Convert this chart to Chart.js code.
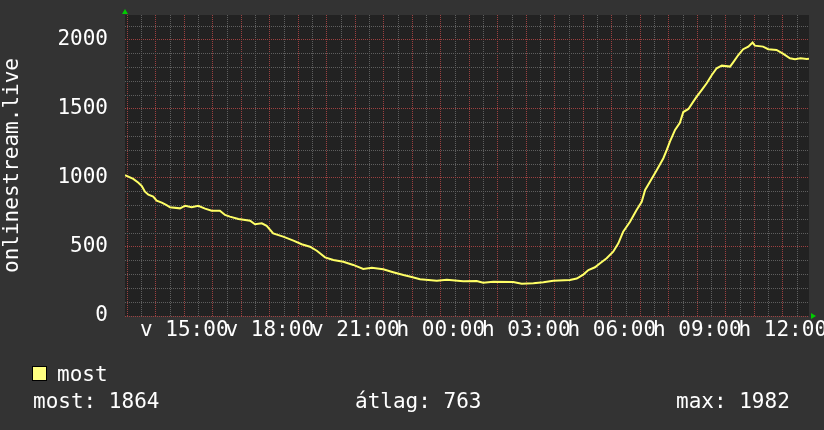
<!DOCTYPE html>
<html><head><meta charset="utf-8">
<script src="https://cdn.jsdelivr.net/npm/chart.js@4/dist/chart.umd.min.js"></script>
<style>html,body{margin:0;padding:0;background:#333333;}canvas{display:block}</style>
</head><body>
<canvas id="c" width="824" height="430"></canvas>
<script>
const seriesName = 'most';
const axisTitle = 'onlinestream.live';
// hours since midnight of the first day
const hours = [12.92,13.21,13.39,13.51,13.62,13.74,13.91,14.03,14.21,14.38,14.50,14.85,15.03,15.26,15.49,15.73,15.96,16.25,16.43,16.60,16.90,17.31,17.48,17.72,17.89,18.12,18.47,18.83,19.12,19.41,19.65,19.94,20.23,20.58,20.93,21.28,21.58,21.98,22.33,22.69,22.98,23.27,23.86,24.21,24.79,25.26,25.49,25.84,26.54,26.84,27.25,27.60,27.95,28.53,28.77,29.00,29.18,29.41,29.59,29.82,30.05,30.23,30.40,30.64,30.87,31.05,31.17,31.34,31.58,31.81,31.93,32.04,32.22,32.39,32.51,32.69,32.86,32.98,33.16,33.33,33.51,33.68,33.86,34.15,34.26,34.44,34.61,34.79,34.94,35.02,35.31,35.49,35.78,36.02,36.25,36.43,36.62,36.84,36.92];
const values = [1020,993,966,942,901,879,865,836,821,804,788,780,799,788,799,778,763,763,732,720,703,691,665,672,654,599,575,546,520,502,473,425,406,393,370,341,350,338,317,297,283,266,256,263,251,254,241,249,246,234,237,244,256,261,271,300,333,353,382,418,466,527,611,683,768,828,913,973,1058,1143,1203,1263,1348,1400,1478,1500,1553,1589,1638,1686,1746,1795,1814,1807,1838,1891,1933,1952,1982,1959,1952,1933,1928,1899,1867,1860,1867,1862,1864];
const xLabelHours = [15,18,21,24,27,30,33,36];
const xLabelTexts = ['v 15:00','v 18:00','v 21:00','h 00:00','h 03:00','h 06:00','h 09:00','h 12:00'];
const yLabelValues = [0,500,1000,1500,2000];
const statTexts = ['most: 1864','átlag: 763','max: 1982'];

const FONT = "'DejaVu Sans Mono'";
const MINOR = '#5e5e5e';
const MAJOR = '#9c4040';

// grid positions (every half hour / every 100)
const xGrid = [];
for (let k = 26; k <= 73; k++) xGrid.push(k / 2);
const yGrid = [];
for (let k = 0; k <= 21; k++) yGrid.push(k * 100);
const xGridColors = xGrid.map(v => Number.isInteger(v) ? MAJOR : MINOR);
const yGridColors = yGrid.map(v => v % 500 === 0 ? MAJOR : MINOR);

const bgPlugin = {
  id: 'bg',
  beforeDraw(chart) {
    const {ctx, chartArea: a} = chart;
    ctx.save();
    ctx.fillStyle = '#333333';
    ctx.fillRect(0, 0, chart.width, chart.height);
    ctx.fillStyle = '#222222';
    ctx.fillRect(a.left, a.top, a.right - a.left, a.bottom - a.top);
    ctx.restore();
  },
  afterDraw(chart) {
    const {ctx, chartArea: a} = chart;
    ctx.save();
    // arrows
    ctx.fillStyle = '#00cc00';
    ctx.beginPath();
    ctx.moveTo(a.left - 3, a.top - 1); ctx.lineTo(a.left + 3, a.top - 1); ctx.lineTo(a.left, a.top - 6); ctx.closePath(); ctx.fill();
    ctx.beginPath();
    ctx.moveTo(a.right + 2, a.bottom - 3); ctx.lineTo(a.right + 2, a.bottom + 3); ctx.lineTo(a.right + 7, a.bottom); ctx.closePath(); ctx.fill();
    // legend
    ctx.fillStyle = '#ffff80';
    ctx.fillRect(32, 366, 15, 15);
    ctx.strokeStyle = '#000000'; ctx.lineWidth = 1;
    ctx.strokeRect(32.5, 366.5, 14, 14);
    ctx.fillStyle = '#ffffff';
    ctx.font = '21px ' + FONT;
    ctx.textBaseline = 'alphabetic';
    ctx.textAlign = 'left';
    ctx.fillText(seriesName, 57, 381);
    const sx = [33, 355, 676];
    statTexts.forEach((t, i) => ctx.fillText(t, sx[i], 408));
    ctx.restore();
  }
};

new Chart(document.getElementById('c'), {
  type: 'line',
  data: {
    datasets: [{
      label: seriesName,
      data: hours.map((h, i) => ({x: h, y: values[i]})),
      borderColor: '#ffff66',
      borderWidth: 2,
      pointRadius: 0,
      tension: 0,
      fill: false
    }]
  },
  options: {
    responsive: false,
    animation: false,
    devicePixelRatio: 1,
    layout: {padding: {left: 0, right: 15, top: 15, bottom: 0}},
    plugins: {legend: {display: false}, tooltip: {enabled: false}},
    scales: {
      x: {
        type: 'linear',
        min: 12.92, max: 36.92,
        afterBuildTicks(scale) { scale.ticks = xGrid.map(v => ({value: v})); },
        afterFit(scale) { scale.height = 114; scale.paddingLeft = 0; scale.paddingRight = 0; },
        grid: {
          drawTicks: false,
          color: xGridColors,
          lineWidth: 1
        },
        border: {display: false, dash: [1, 1]},
        ticks: {
          autoSkip: false, maxRotation: 0, minRotation: 0,
          padding: 2,
          color: '#ffffff',
          font: {family: FONT, size: 21},
          callback: v => { const i = xLabelHours.indexOf(v); return i >= 0 ? xLabelTexts[i] : ''; }
        }
      },
      y: {
        min: 0, max: 2181,
        afterBuildTicks(scale) { scale.ticks = yGrid.map(v => ({value: v})); },
        afterFit(scale) { scale.width = 125; scale.paddingTop = 0; scale.paddingBottom = 0; },
        grid: {
          drawTicks: false,
          color: yGridColors,
          lineWidth: 1
        },
        border: {display: false, dash: [1, 1]},
        title: {display: true, text: axisTitle, color: '#ffffff', font: {family: FONT, size: 21}, padding: 0},
        ticks: {
          autoSkip: false,
          padding: 17,
          color: '#ffffff',
          font: {family: FONT, size: 21},
          callback: v => yLabelValues.includes(v) ? String(v) : ''
        }
      }
    }
  },
  plugins: [bgPlugin]
});
</script>
</body></html>
